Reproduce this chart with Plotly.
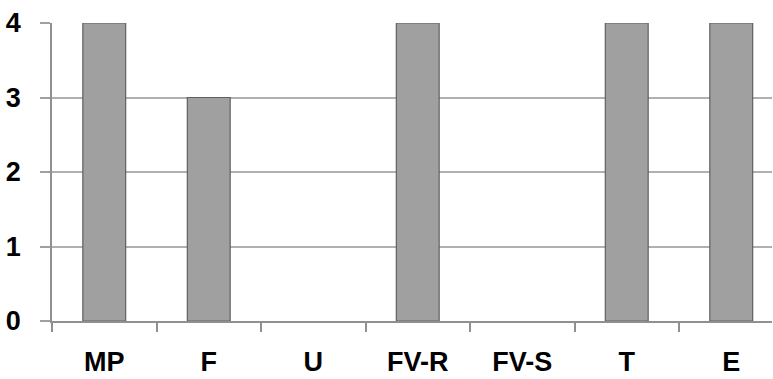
import plotly.graph_objects as go

categories = ["MP", "F", "U", "FV-R", "FV-S", "T", "E"]
values = [4, 3, 0, 4, 0, 4, 4]
y_ticks = [0, 1, 2, 3, 4]

fam = "Liberation Sans, Arial, sans-serif"

fig = go.Figure(go.Bar(
    x=categories, y=values,
    marker=dict(color="#a0a0a0",
                line=dict(color="#606060", width=[1.2 if v else 0 for v in values])),
    width=0.41,
))

fig.update_layout(
    width=773, height=379,
    margin=dict(l=52, r=1, t=23, b=58),
    plot_bgcolor="white", paper_bgcolor="white",
    showlegend=False,
)
fig.update_xaxes(
    type="category", range=[-0.5, 6.39], automargin=False,
    tickvals=categories, ticktext=[f"<b>{c}</b>" for c in categories],
    showline=True, linecolor="#909090", linewidth=1.5, layer="above traces",
    ticks="outside", tickson="boundaries", ticklen=9, tickcolor="#909090", tickwidth=1.5,
    showgrid=False,
    tickfont=dict(family=fam, size=27, color="#000"),
    ticklabelstandoff=16,
)
fig.update_yaxes(
    range=[0, 4], automargin=False,
    tickvals=y_ticks, ticktext=[f"<b>{v}</b>" for v in y_ticks],
    showline=True, linecolor="#909090", linewidth=1.5,
    ticks="outside", ticklen=10, tickcolor="#a0a0a0", tickwidth=1.5,
    showgrid=True, gridcolor="#b0b0b0", gridwidth=1.6,
    zeroline=False,
    tickfont=dict(family=fam, size=27, color="#000"),
    ticklabelstandoff=14,
)
fig.write_html("out.html", config={"displayModeBar": False},
               post_script="document.body.style.margin='0';document.body.style.overflow='hidden';")
